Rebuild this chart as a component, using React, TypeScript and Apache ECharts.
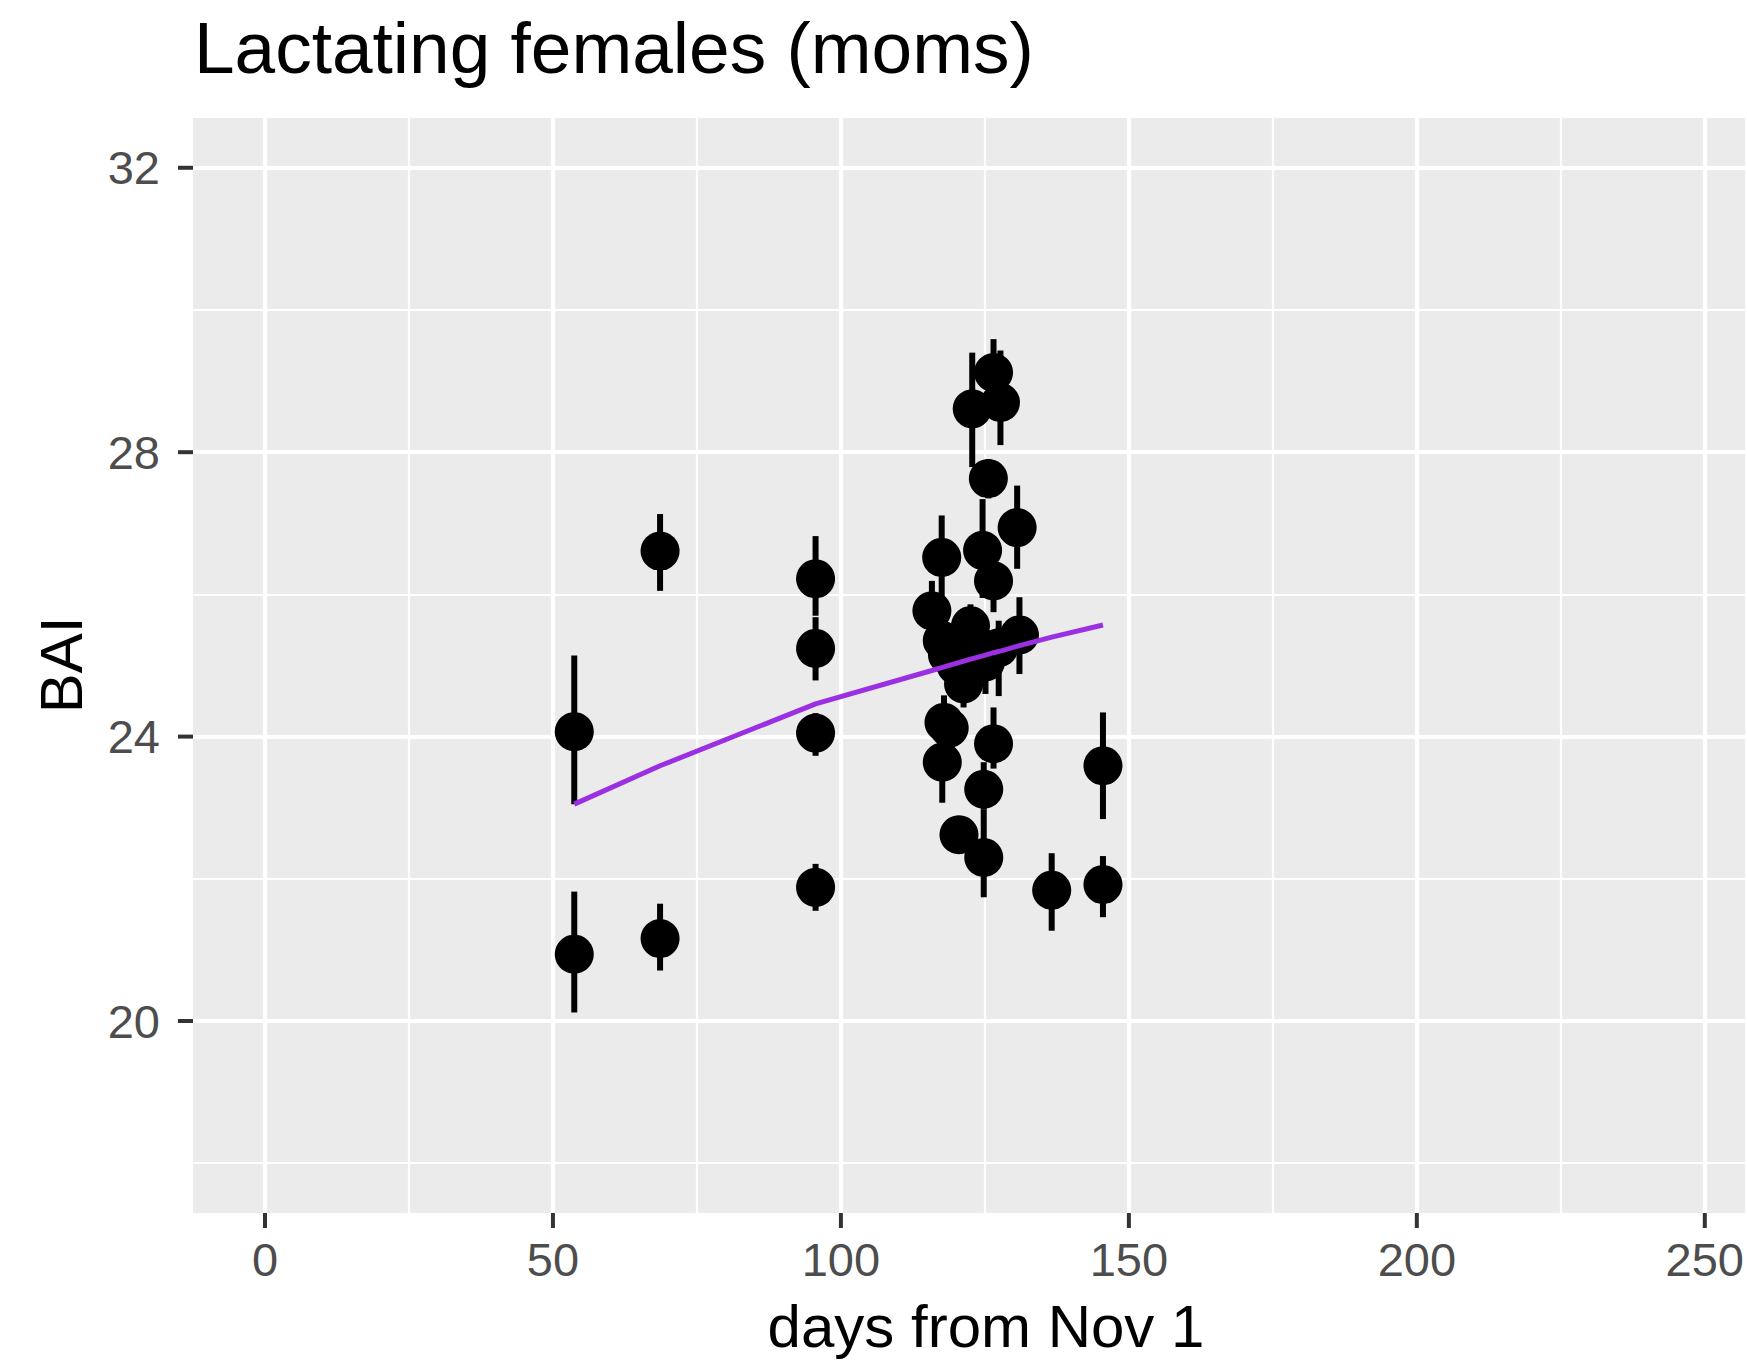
import React, { useEffect, useRef } from "react";
import * as echarts from "echarts";

// ---- data ----
const days = [53.7, 53.7, 68.6, 68.6, 95.6, 95.6, 95.6, 95.6, 115.8, 117.5, 117.6, 118.5, 120.0, 121.3, 122.5, 123.5, 125.1, 127.4, 131.0, 117.9, 118.8, 117.6, 122.8, 126.5, 127.7, 125.6, 124.6, 130.6, 126.5, 126.5, 124.8, 120.5, 124.8, 136.6, 145.5, 145.5];
const bai = [24.07, 20.94, 26.61, 21.16, 26.22, 25.24, 24.05, 21.88, 25.77, 26.52, 25.35, 25.15, 25.0, 24.74, 25.56, 25.3, 25.05, 25.25, 25.43, 24.2, 24.12, 23.64, 28.61, 29.12, 28.7, 27.63, 26.62, 26.94, 26.19, 23.9, 23.26, 22.62, 22.3, 21.84, 23.59, 21.92];
const baiLo = [23.05, 20.12, 26.05, 20.71, 25.7, 24.79, 23.73, 21.55, 25.35, 25.95, 24.95, 24.8, 24.7, 24.41, 25.2, 25.0, 24.6, 24.57, 24.88, 23.85, 23.8, 23.07, 27.79, 28.7, 28.1, 27.35, 25.95, 26.36, 25.75, 23.55, 22.98, 22.45, 21.74, 21.27, 22.84, 21.46];
const baiHi = [25.14, 21.82, 27.13, 21.65, 26.82, 25.68, 24.33, 22.21, 26.19, 27.11, 25.75, 25.5, 25.35, 25.05, 25.86, 25.6, 25.5, 25.63, 25.96, 24.58, 24.4, 24.0, 29.4, 29.59, 29.43, 27.9, 27.34, 27.53, 26.6, 24.41, 23.64, 22.8, 22.98, 22.36, 24.34, 22.32];

const fitDays = [53.7, 68.6, 95.6, 115.8, 117.5, 120.0, 122.5, 124.8, 126.5, 128.0, 131.0, 136.6, 145.5];
const fitBai = [23.05, 23.59, 24.46, 24.93, 24.97, 25.03, 25.09, 25.14, 25.18, 25.21, 25.28, 25.4, 25.57];

const xMajor = [0, 50, 100, 150, 200, 250];
const xMinor = [25, 75, 125, 175, 225];
const yMajor = [20, 24, 28, 32];
const yMinor = [18, 22, 26, 30];

const X_MIN = -12.5;
const X_MAX = 257;
const Y_MIN = 17.3;
const Y_MAX = 32.7;

const FONT = '"Liberation Sans", Arial, Helvetica, sans-serif';

export default function App() {
  const ref = useRef<HTMLDivElement>(null);

  useEffect(() => {
    if (!ref.current) return;
    const chart = echarts.init(ref.current, null, { renderer: "svg" });

    const points = days.map((d, i) => [d, bai[i], baiLo[i], baiHi[i]]);
    const fit = fitDays.map((d, i) => [d, fitBai[i]]);

    const gridStyle = (w: number) => ({
      silent: true,
      z: 1,
      symbol: ["none", "none"],
      label: { show: false },
      emphasis: { disabled: true },
      lineStyle: { color: "#FFFFFF", width: w, type: "solid" as const, opacity: 1 },
    });

    const TICK_LEN = 15;
    const TICK_W = 4;

    chart.setOption({
      animation: false,
      backgroundColor: "#FFFFFF",
      title: {
        text: "Lactating females (moms)",
        left: 194,
        top: 11,
        padding: 0,
        textStyle: { fontFamily: FONT, fontSize: 73, fontWeight: "normal", color: "#000000" },
      },
      grid: {
        left: 193,
        top: 118,
        width: 1554,
        height: 1095,
        show: true,
        backgroundColor: "#EBEBEB",
        borderWidth: 0,
      },
      xAxis: {
        type: "value",
        min: X_MIN,
        max: X_MAX,
        axisLine: { show: false },
        splitLine: { show: false },
        axisTick: { show: false },
        axisLabel: {
          customValues: xMajor,
          margin: 23,
          fontFamily: FONT,
          fontSize: 47,
          color: "#4D4D4D",
        },
      },
      yAxis: {
        type: "value",
        min: Y_MIN,
        max: Y_MAX,
        axisLine: { show: false },
        splitLine: { show: false },
        axisTick: { show: false },
        axisLabel: {
          customValues: yMajor,
          margin: 33,
          fontFamily: FONT,
          fontSize: 47,
          color: "#4D4D4D",
        },
      },
      graphic: [
        {
          type: "text",
          x: 986,
          y: 1296,
          style: {
            text: "days from Nov 1",
            fontFamily: FONT,
            fontSize: 60,
            fill: "#000000",
            textAlign: "center",
            textVerticalAlign: "top",
          },
        },
        {
          type: "text",
          x: 61,
          y: 665,
          rotation: Math.PI / 2,
          style: {
            text: "BAI",
            fontFamily: FONT,
            fontSize: 60,
            fill: "#000000",
            textAlign: "center",
            textVerticalAlign: "middle",
          },
        },
      ],
      series: [
        {
          type: "line",
          data: [],
          z: 1,
          silent: true,
          markLine: {
            ...gridStyle(2.2),
            data: [
              ...xMinor.map((v) => ({ xAxis: v })),
              ...yMinor.map((v) => ({ yAxis: v })),
            ],
          },
        },
        {
          type: "line",
          data: [],
          z: 1,
          silent: true,
          markLine: {
            ...gridStyle(4.2),
            data: [
              ...xMajor.map((v) => ({ xAxis: v })),
              ...yMajor.map((v) => ({ yAxis: v })),
            ],
          },
        },
        // x-axis tick marks
        {
          type: "custom",
          z: 5,
          silent: true,
          clip: false,
          data: xMajor.map((v) => [v, Y_MIN]),
          encode: { x: 0, y: 1 },
          renderItem: (params: any, api: any) => {
            const p = api.coord([api.value(0), api.value(1)]);
            return {
              type: "line",
              shape: { x1: p[0], y1: p[1], x2: p[0], y2: p[1] + TICK_LEN },
              style: { stroke: "#333333", lineWidth: TICK_W },
            };
          },
        },
        // y-axis tick marks
        {
          type: "custom",
          z: 5,
          silent: true,
          clip: false,
          data: yMajor.map((v) => [X_MIN, v]),
          encode: { x: 0, y: 1 },
          renderItem: (params: any, api: any) => {
            const p = api.coord([api.value(0), api.value(1)]);
            return {
              type: "line",
              shape: { x1: p[0], y1: p[1], x2: p[0] - TICK_LEN, y2: p[1] },
              style: { stroke: "#333333", lineWidth: TICK_W },
            };
          },
        },
        // point ranges
        {
          type: "custom",
          z: 10,
          silent: true,
          data: points,
          encode: { x: 0, y: 1 },
          renderItem: (params: any, api: any) => {
            const x = api.value(0);
            const p = api.coord([x, api.value(1)]);
            const pl = api.coord([x, api.value(2)]);
            const ph = api.coord([x, api.value(3)]);
            return {
              type: "group",
              children: [
                {
                  type: "line",
                  shape: { x1: pl[0], y1: pl[1], x2: ph[0], y2: ph[1] },
                  style: { stroke: "#000000", lineWidth: 6 },
                },
                {
                  type: "circle",
                  shape: { cx: p[0], cy: p[1], r: 19.5 },
                  style: { fill: "#000000" },
                },
              ],
            };
          },
        },
        {
          type: "line",
          z: 20,
          silent: true,
          data: fit,
          showSymbol: false,
          symbol: "none",
          lineStyle: { color: "#9B30E3", width: 5 },
        },
      ],
    });

    return () => chart.dispose();
  }, []);

  return (
    <div
      ref={ref}
      style={{ position: "absolute", left: 0, top: 0, width: 1747, height: 1360 }}
    />
  );
}
